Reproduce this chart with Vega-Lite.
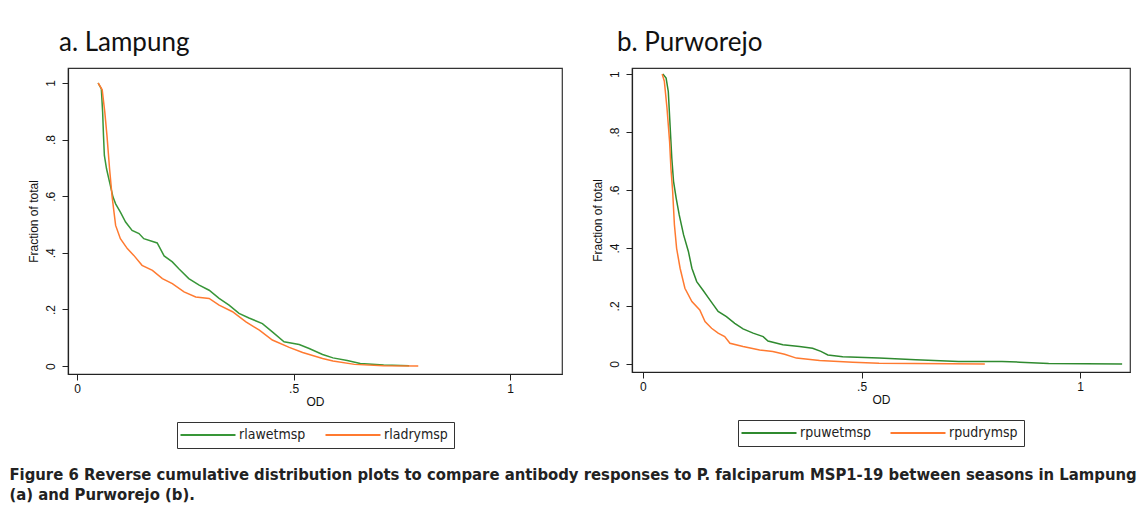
{
  "$schema": "https://vega.github.io/schema/vega-lite/v6.json",
  "padding": {"left": 9, "top": 29, "right": 0, "bottom": 0},
  "background": "white",
  "title": {
    "text": ["Figure 6 Reverse cumulative distribution plots to compare antibody responses to P. falciparum MSP1-19 between seasons in Lampung", "(a) and Purworejo (b)."],
    "orient": "bottom",
    "anchor": "start",
    "frame": "bounds",
    "dx": -17,
    "offset": 18,
    "font": "DejaVu Sans Condensed, Liberation Sans Narrow, Liberation Sans",
    "fontSize": 16.5,
    "fontWeight": "bold",
    "lineHeight": 20,
    "color": "#222"
  },
  "datasets": {
    "lampung": [
      {"series": "rlawetmsp", "od": 0.0486, "frac": 1.0},
      {"series": "rlawetmsp", "od": 0.056, "frac": 0.979},
      {"series": "rlawetmsp", "od": 0.059, "frac": 0.897},
      {"series": "rlawetmsp", "od": 0.061, "frac": 0.814},
      {"series": "rlawetmsp", "od": 0.063, "frac": 0.744},
      {"series": "rlawetmsp", "od": 0.068, "frac": 0.697},
      {"series": "rlawetmsp", "od": 0.075, "frac": 0.650},
      {"series": "rlawetmsp", "od": 0.083, "frac": 0.597},
      {"series": "rlawetmsp", "od": 0.089, "frac": 0.573},
      {"series": "rlawetmsp", "od": 0.100, "frac": 0.544},
      {"series": "rlawetmsp", "od": 0.112, "frac": 0.509},
      {"series": "rlawetmsp", "od": 0.127, "frac": 0.479},
      {"series": "rlawetmsp", "od": 0.143, "frac": 0.468},
      {"series": "rlawetmsp", "od": 0.154, "frac": 0.450},
      {"series": "rlawetmsp", "od": 0.185, "frac": 0.435},
      {"series": "rlawetmsp", "od": 0.201, "frac": 0.389},
      {"series": "rlawetmsp", "od": 0.220, "frac": 0.368},
      {"series": "rlawetmsp", "od": 0.235, "frac": 0.344},
      {"series": "rlawetmsp", "od": 0.258, "frac": 0.309},
      {"series": "rlawetmsp", "od": 0.282, "frac": 0.286},
      {"series": "rlawetmsp", "od": 0.305, "frac": 0.268},
      {"series": "rlawetmsp", "od": 0.328, "frac": 0.239},
      {"series": "rlawetmsp", "od": 0.351, "frac": 0.215},
      {"series": "rlawetmsp", "od": 0.374, "frac": 0.186},
      {"series": "rlawetmsp", "od": 0.397, "frac": 0.170},
      {"series": "rlawetmsp", "od": 0.428, "frac": 0.150},
      {"series": "rlawetmsp", "od": 0.451, "frac": 0.121},
      {"series": "rlawetmsp", "od": 0.478, "frac": 0.086},
      {"series": "rlawetmsp", "od": 0.513, "frac": 0.076},
      {"series": "rlawetmsp", "od": 0.536, "frac": 0.062},
      {"series": "rlawetmsp", "od": 0.567, "frac": 0.041},
      {"series": "rlawetmsp", "od": 0.591, "frac": 0.029},
      {"series": "rlawetmsp", "od": 0.624, "frac": 0.020},
      {"series": "rlawetmsp", "od": 0.654, "frac": 0.009},
      {"series": "rlawetmsp", "od": 0.708, "frac": 0.004},
      {"series": "rlawetmsp", "od": 0.767, "frac": 0.001},
      {"series": "rladrymsp", "od": 0.0486, "frac": 1.0},
      {"series": "rladrymsp", "od": 0.058, "frac": 0.976},
      {"series": "rladrymsp", "od": 0.064, "frac": 0.897},
      {"series": "rladrymsp", "od": 0.069, "frac": 0.814},
      {"series": "rladrymsp", "od": 0.075, "frac": 0.697},
      {"series": "rladrymsp", "od": 0.081, "frac": 0.597},
      {"series": "rladrymsp", "od": 0.089, "frac": 0.497},
      {"series": "rladrymsp", "od": 0.100, "frac": 0.450},
      {"series": "rladrymsp", "od": 0.116, "frac": 0.415},
      {"series": "rladrymsp", "od": 0.131, "frac": 0.391},
      {"series": "rladrymsp", "od": 0.150, "frac": 0.356},
      {"series": "rladrymsp", "od": 0.174, "frac": 0.338},
      {"series": "rladrymsp", "od": 0.197, "frac": 0.309},
      {"series": "rladrymsp", "od": 0.220, "frac": 0.291},
      {"series": "rladrymsp", "od": 0.247, "frac": 0.262},
      {"series": "rladrymsp", "od": 0.274, "frac": 0.244},
      {"series": "rladrymsp", "od": 0.305, "frac": 0.239},
      {"series": "rladrymsp", "od": 0.328, "frac": 0.215},
      {"series": "rladrymsp", "od": 0.359, "frac": 0.192},
      {"series": "rladrymsp", "od": 0.390, "frac": 0.156},
      {"series": "rladrymsp", "od": 0.421, "frac": 0.127},
      {"series": "rladrymsp", "od": 0.451, "frac": 0.092},
      {"series": "rladrymsp", "od": 0.490, "frac": 0.066},
      {"series": "rladrymsp", "od": 0.521, "frac": 0.048},
      {"series": "rladrymsp", "od": 0.567, "frac": 0.027},
      {"series": "rladrymsp", "od": 0.591, "frac": 0.018},
      {"series": "rladrymsp", "od": 0.641, "frac": 0.006},
      {"series": "rladrymsp", "od": 0.708, "frac": 0.001},
      {"series": "rladrymsp", "od": 0.788, "frac": 0.0}
    ],
    "purworejo": [
      {"series": "rpuwetmsp", "od": 0.0455, "frac": 1.0},
      {"series": "rpuwetmsp", "od": 0.053, "frac": 0.986},
      {"series": "rpuwetmsp", "od": 0.058, "frac": 0.940},
      {"series": "rpuwetmsp", "od": 0.062, "frac": 0.825},
      {"series": "rpuwetmsp", "od": 0.066, "frac": 0.710},
      {"series": "rpuwetmsp", "od": 0.070, "frac": 0.630},
      {"series": "rpuwetmsp", "od": 0.076, "frac": 0.572},
      {"series": "rpuwetmsp", "od": 0.083, "frac": 0.514},
      {"series": "rpuwetmsp", "od": 0.093, "frac": 0.445},
      {"series": "rpuwetmsp", "od": 0.104, "frac": 0.388},
      {"series": "rpuwetmsp", "od": 0.112, "frac": 0.330},
      {"series": "rpuwetmsp", "od": 0.123, "frac": 0.284},
      {"series": "rpuwetmsp", "od": 0.137, "frac": 0.255},
      {"series": "rpuwetmsp", "od": 0.153, "frac": 0.221},
      {"series": "rpuwetmsp", "od": 0.172, "frac": 0.181},
      {"series": "rpuwetmsp", "od": 0.191, "frac": 0.163},
      {"series": "rpuwetmsp", "od": 0.210, "frac": 0.140},
      {"series": "rpuwetmsp", "od": 0.229, "frac": 0.121},
      {"series": "rpuwetmsp", "od": 0.252, "frac": 0.106},
      {"series": "rpuwetmsp", "od": 0.275, "frac": 0.094},
      {"series": "rpuwetmsp", "od": 0.286, "frac": 0.079},
      {"series": "rpuwetmsp", "od": 0.320, "frac": 0.066},
      {"series": "rpuwetmsp", "od": 0.358, "frac": 0.060},
      {"series": "rpuwetmsp", "od": 0.388, "frac": 0.054},
      {"series": "rpuwetmsp", "od": 0.407, "frac": 0.043},
      {"series": "rpuwetmsp", "od": 0.423, "frac": 0.031},
      {"series": "rpuwetmsp", "od": 0.457, "frac": 0.025},
      {"series": "rpuwetmsp", "od": 0.540, "frac": 0.020},
      {"series": "rpuwetmsp", "od": 0.624, "frac": 0.014},
      {"series": "rpuwetmsp", "od": 0.722, "frac": 0.008},
      {"series": "rpuwetmsp", "od": 0.821, "frac": 0.008},
      {"series": "rpuwetmsp", "od": 0.862, "frac": 0.006},
      {"series": "rpuwetmsp", "od": 0.928, "frac": 0.001},
      {"series": "rpuwetmsp", "od": 1.096, "frac": 0.0},
      {"series": "rpudrymsp", "od": 0.044, "frac": 1.0},
      {"series": "rpudrymsp", "od": 0.049, "frac": 0.975},
      {"series": "rpudrymsp", "od": 0.055, "frac": 0.883},
      {"series": "rpudrymsp", "od": 0.061, "frac": 0.767},
      {"series": "rpudrymsp", "od": 0.064, "frac": 0.675},
      {"series": "rpudrymsp", "od": 0.068, "frac": 0.595},
      {"series": "rpudrymsp", "od": 0.072, "frac": 0.480},
      {"series": "rpudrymsp", "od": 0.077, "frac": 0.399},
      {"series": "rpudrymsp", "od": 0.085, "frac": 0.330},
      {"series": "rpudrymsp", "od": 0.096, "frac": 0.261},
      {"series": "rpudrymsp", "od": 0.112, "frac": 0.215},
      {"series": "rpudrymsp", "od": 0.130, "frac": 0.186},
      {"series": "rpudrymsp", "od": 0.142, "frac": 0.146},
      {"series": "rpudrymsp", "od": 0.157, "frac": 0.123},
      {"series": "rpudrymsp", "od": 0.172, "frac": 0.106},
      {"series": "rpudrymsp", "od": 0.187, "frac": 0.094},
      {"series": "rpudrymsp", "od": 0.199, "frac": 0.071},
      {"series": "rpudrymsp", "od": 0.229, "frac": 0.060},
      {"series": "rpudrymsp", "od": 0.267, "frac": 0.048},
      {"series": "rpudrymsp", "od": 0.297, "frac": 0.043},
      {"series": "rpudrymsp", "od": 0.324, "frac": 0.033},
      {"series": "rpudrymsp", "od": 0.351, "frac": 0.020},
      {"series": "rpudrymsp", "od": 0.404, "frac": 0.012},
      {"series": "rpudrymsp", "od": 0.480, "frac": 0.006},
      {"series": "rpudrymsp", "od": 0.540, "frac": 0.002},
      {"series": "rpudrymsp", "od": 0.782, "frac": 0.0}
    ]
  },
  "spacing": 27,
  "hconcat": [
    {
      "width": 494,
      "height": 306,
      "title": {"text": "a. Lampung", "anchor": "start", "frame": "group", "dx": -9, "offset": 12},
      "data": {"name": "lampung"},
      "mark": {"type": "line", "strokeWidth": 1.5},
      "encoding": {
        "x": {"field": "od", "type": "quantitative", "scale": {"domain": [-0.021, 1.12], "nice": false, "zero": false}, "axis": {"values": [0, 0.5, 1], "title": "OD"}},
        "y": {"field": "frac", "type": "quantitative", "scale": {"domain": [-0.028, 1.053], "nice": false, "zero": false}, "axis": {"values": [0, 0.2, 0.4, 0.6, 0.8, 1], "title": "Fraction of total"}},
        "color": {"field": "series", "type": "nominal", "scale": {"domain": ["rlawetmsp", "rladrymsp"], "range": ["#389638", "#ff7a30"]}, "legend": {"title": null}}
      }
    },
    {
      "width": 498,
      "height": 304,
      "title": {"text": "b. Purworejo", "anchor": "start", "frame": "group", "dx": -15, "offset": 12},
      "data": {"name": "purworejo"},
      "mark": {"type": "line", "strokeWidth": 1.5},
      "encoding": {
        "x": {"field": "od", "type": "quantitative", "scale": {"domain": [-0.025, 1.114], "nice": false, "zero": false}, "axis": {"values": [0, 0.5, 1], "title": "OD"}},
        "y": {"field": "frac", "type": "quantitative", "scale": {"domain": [-0.028, 1.021], "nice": false, "zero": false}, "axis": {"values": [0, 0.2, 0.4, 0.6, 0.8, 1], "title": "Fraction of total"}},
        "color": {"field": "series", "type": "nominal", "scale": {"domain": ["rpuwetmsp", "rpudrymsp"], "range": ["#2f8a2f", "#ff7a30"]}, "legend": {"title": null}}
      }
    }
  ],
  "resolve": {"scale": {"color": "independent"}, "legend": {"color": "independent"}},
  "config": {
    "view": {"stroke": "#333", "strokeWidth": 1.2},
    "title": {"font": "Lato", "fontSize": 26, "fontWeight": "normal", "color": "#111"},
    "axis": {
      "grid": false,
      "domainColor": "#222",
      "domainWidth": 1.2,
      "tickColor": "#222",
      "tickSize": 6,
      "labelFont": "Liberation Sans",
      "labelFontSize": 12,
      "labelColor": "#111",
      "titleFont": "Liberation Sans",
      "titleFontSize": 12,
      "titleFontWeight": "normal",
      "titleColor": "#111",
      "labelExpr": "datum.value > 0 && datum.value < 1 ? substring(toString(datum.value), 1) : toString(datum.value)"
    },
    "axisX": {"labelPadding": 3, "titlePadding": 2},
    "axisY": {"labelAngle": -90, "labelAlign": "center", "labelBaseline": "bottom", "labelPadding": 5, "titlePadding": 4},
    "legend": {
      "orient": "bottom",
      "direction": "horizontal",
      "strokeColor": "#333",
      "strokeWidth": 1,
      "padding": 6,
      "offset": 15,
      "symbolType": "M-5,0H5",
      "symbolSize": 121,
      "symbolOffset": 18,
      "symbolStrokeWidth": 2,
      "labelFont": "Liberation Sans Narrow, DejaVu Sans Condensed, Liberation Sans",
      "labelFontSize": 14,
      "labelColor": "#222",
      "labelOffset": 24,
      "columnPadding": 15,
      "layout": {"bottom": {"anchor": "middle"}}
    }
  }
}
